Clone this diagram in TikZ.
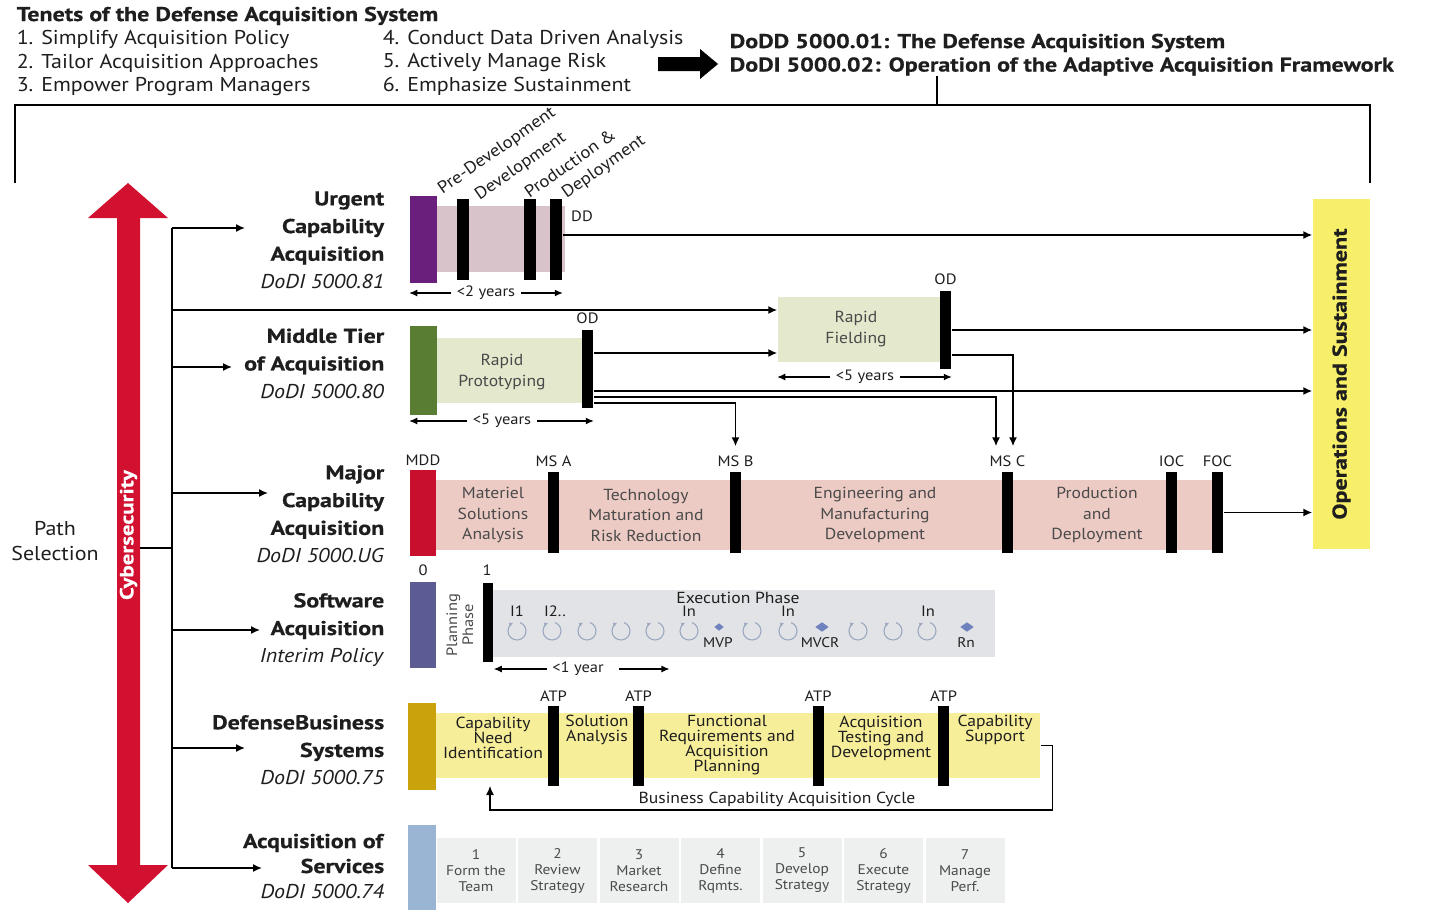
\documentclass[tikz,border=0pt]{standalone}
\usepackage{fontspec}
\setmainfont{PT Sans}[FakeStretch=1.1, BoldFeatures={FakeStretch=1.2, FakeBold=0.5}]
\usepackage{tikz}
\usetikzlibrary{arrows.meta, shapes.geometric, positioning}
\definecolor{txtdark}{HTML}{1E1E1E}
\definecolor{txtgray}{HTML}{4A4A4A}
\definecolor{cyberred}{HTML}{D2102F}
\definecolor{ucapurple}{HTML}{6B1F7C}
\definecolor{ucaband}{HTML}{D9C3CB}
\definecolor{mtagreen}{HTML}{5A7D34}
\definecolor{mtaband}{HTML}{E4E8CC}
\definecolor{mcared}{HTML}{C8102E}
\definecolor{mcaband}{HTML}{EDCBC5}
\definecolor{swblue}{HTML}{5C5B94}
\definecolor{swband}{HTML}{E2E3E6}
\definecolor{iconblue}{HTML}{9AA8C0}
\definecolor{dmdblue}{HTML}{6F82BD}
\definecolor{dbsgold}{HTML}{C9A20C}
\definecolor{dbsband}{HTML}{F7EE9A}
\definecolor{aosblue}{HTML}{9AB5D3}
\definecolor{aosband}{HTML}{EEF0F0}
\definecolor{osyellow}{HTML}{F7EF6A}
\newcommand\fsize[2]{\fontsize{#1}{#2}\selectfont}

\tikzset{
  hdr/.style={anchor=north west, align=left, inner sep=0pt, text=txtdark, font=\fsize{20}{23.5}},
  pathlbl/.style={anchor=east, align=right, inner sep=0pt, text=txtdark, font=\fsize{20}{27.7}},
  pathbar/.style={inner sep=0pt, minimum width=27pt},
  band/.style={inner sep=0pt},
  msbar/.style={fill=black, inner sep=0pt, minimum width=11pt},
  mslbl/.style={inner sep=0pt, text=txtdark, font=\fsize{15}{15}},
  phase/.style={align=center, inner sep=0pt, text=txtgray, font=\fsize{16}{20.5}},
  dbstxt/.style={align=center, inner sep=0pt, text=txtdark, font=\fsize{16}{15}},
  svcbox/.style={fill=aosband, inner sep=0pt, minimum width=79pt, minimum height=65pt, align=center, text=txtgray, font=\fsize{14}{16}},
  tilt/.style={rotate=35, anchor=base west, inner sep=0pt, text=txtdark, font=\fsize{17}{17}},
  dimlbl/.style={inner xsep=5pt, inner ysep=0pt, text=txtdark, font=\fsize{15}{15}},
  dim/.style={line width=1.1pt, -{Latex[length=8pt,width=7pt]}},
  iter/.style={draw=iconblue, line width=1.1pt, -{Latex[length=4pt,width=4pt]}},
  dmd/.style={diamond, fill=dmdblue, inner sep=0pt},
}

\begin{document}
\begin{tikzpicture}[x=1pt, y=-1pt, line width=1.5pt, >={Latex[length=9pt,width=8pt]}]
  \useasboundingbox (0,0) rectangle (1430,910);

  % header
  \node[hdr] (tenets) at (16,6) {\textbf{Tenets of the Defense Acquisition System}\\1. Simplify Acquisition Policy\\2. Tailor Acquisition Approaches\\3. Empower Program Managers};
  \node[hdr] (tenets2) at (382,29.5) {4. Conduct Data Driven Analysis\\5. Actively Manage Risk\\6. Emphasize Sustainment};
  \fill (658,57) -- (700,57) -- (700,49) -- (718,64) -- (700,79) -- (700,71) -- (658,71) -- cycle;
  \node[hdr, font=\bfseries\fsize{20}{23.5}] (dodd) at (729,33) {DoDD 5000.01: The Defense Acquisition System\\DoDI 5000.02: Operation of the Adaptive Acquisition Framework};
  \coordinate (frame) at (937,105);
  \draw (dodd.south -| frame) -- (frame);
  \draw (15,183) -- (15,105) -- (1370,105) -- (1370,183);

  % cybersecurity arrow and path selection
  \fill[cyberred] (128,183) -- (168,218) -- (140,218) -- (140,865) -- (168,865) -- (128,903) -- (88,865) -- (117,865) -- (117,218) -- (88,218) -- cycle;
  \node[rotate=90, inner sep=0pt, text=white, font=\bfseries\fsize{19}{19}] (cyber) at (128.5,535) {Cybersecurity};
  \node[align=center, inner sep=0pt, text=txtdark, font=\fsize{20}{25}] (path) at (55,541) {Path\\Selection};
  \coordinate (shaft) at (140,548);
  \coordinate (ttop) at (172,228);
  \coordinate (tbot) at (172,868);
  \draw (shaft) -- (shaft -| ttop);
  \draw (ttop) -- (tbot);
  \foreach \y/\len in {228/73, 367/60, 493/96, 630/88, 748/73, 868/90}
    \draw[->] (172,\y) -- ++(\len,0);

  % pathway labels
  \node[pathlbl] (uca) at (385,240) {\textbf{Urgent}\\\textbf{Capability}\\\textbf{Acquisition}\\\textit{DoDI 5000.81}};
  \node[pathlbl] (mta) at (385,363.5) {\textbf{Middle Tier}\\\textbf{of Acquisition}\\\textit{DoDI 5000.80}};
  \node[pathlbl] (mca) at (385,514) {\textbf{Major}\\\textbf{Capability}\\\textbf{Acquisition}\\\textit{DoDI 5000.UG}};
  \node[pathlbl] (swa) at (385,630) {\textbf{Software}\\\textbf{Acquisition}\\\textit{Interim Policy}};
  \node[pathlbl] (dbs) at (385,750) {\textbf{DefenseBusiness}\\\textbf{Systems}\\\textit{DoDI 5000.75}};
  \node[pathlbl, font=\fsize{20}{25}] (aos) at (385,866) {\textbf{Acquisition of}\\\textbf{Services}\\\textit{DoDI 5000.74}};

  % operations and sustainment
  \node[fill=osyellow, inner sep=0pt, minimum width=57pt, minimum height=350pt] (os) at (1341.5,374) {};
  \node[rotate=90, inner sep=0pt, text=txtdark, font=\bfseries\fsize{20}{20}] (oslbl) at (os) {Operations and Sustainment};

  % urgent capability acquisition
  \node[pathbar, fill=ucapurple, minimum height=87pt] (ucabar) at (423.5,239.5) {};
  \node[band, fill=ucaband, minimum width=128pt, minimum height=66pt] (ucaband) at (501,239) {};
  \node[msbar, minimum width=12pt, minimum height=81pt] (pdev) at (463,239.5) {};
  \node[msbar, minimum width=12pt, minimum height=81pt] (dev) at (530,239.5) {};
  \node[msbar, minimum width=12pt, minimum height=81pt] (dd) at (556,239.5) {};
  \node[tilt] (lpre) at (442,195) {Pre-Development};
  \node[tilt] (ldev) at (479,201) {Development};
  \node[tilt] (lprod) at (529,199) {Production \&};
  \node[tilt] (ldep) at (566,199) {Deployment};
  \node[mslbl] (ddlbl) at (582,216) {DD};
  \node[dimlbl] (uyrs) at (486,293) {<2 years};
  \draw[dim] (uyrs.west) -- (uyrs.west -| ucabar.west);
  \draw[dim] (uyrs.east) -- (uyrs.east -| dd.east);

  % middle tier of acquisition
  \node[pathbar, fill=mtagreen, minimum height=89pt] (mtabar) at (423.5,370.5) {};
  \node[band, fill=mtaband, minimum width=148pt, minimum height=65pt] (rpband) at (511,370.5) {};
  \node[phase] (rp) at (502,372) {Rapid\\Prototyping};
  \node[msbar, minimum height=78pt] (odp) at (587.5,369) {};
  \node[mslbl, above=5pt of odp] (odplbl) {OD};
  \node[band, fill=mtaband, minimum width=167pt, minimum height=65pt] (rfband) at (861.5,329.5) {};
  \node[phase] (rf) at (856,329) {Rapid\\Fielding};
  \node[msbar, minimum height=78pt] (odf) at (945.5,330) {};
  \node[mslbl, above=5pt of odf] (odflbl) {OD};
  \node[dimlbl] (pyrs) at (502,421) {<5 years};
  \draw[dim] (pyrs.west) -- (pyrs.west -| mtabar.west);
  \draw[dim] (pyrs.east) -- (pyrs.east -| odp.east);
  \node[dimlbl] (fyrs) at (865,377) {<5 years};
  \draw[dim] (fyrs.west) -- (fyrs.west -| rfband.west);
  \draw[dim] (fyrs.east) -- (fyrs.east -| odf.east);

  % major capability acquisition
  \node[pathbar, fill=mcared, minimum width=26pt, minimum height=86pt] (mcabar) at (423,513) {};
  \node[mslbl, above=3pt of mcabar] (mddlbl) {MDD};
  \node[band, fill=mcaband, minimum width=784pt, minimum height=70pt] (mcaband) at (828,515) {};
  \foreach \n/\x/\t in {msA/553.5/MS A, msB/735.5/MS B, msC/1007.5/MS C, ioc/1171.5/IOC, foc/1217.5/FOC} {
    \node[msbar, minimum height=81pt] (\n) at (\x,512.5) {};
    \node[mslbl, above=4pt of \n] (\n lbl) {\t};
  }
  \node[phase] (msa) at (493,515) {Materiel\\Solutions\\Analysis};
  \node[phase] (tmrr) at (646,515) {Technology\\Maturation and\\Risk Reduction};
  \node[phase] (emd) at (875,515) {Engineering and\\Manufacturing\\Development};
  \node[phase] (pd) at (1097,515) {Production\\and\\Deployment};
  \node[mslbl] (n0) at (423,570) {0};
  \node[mslbl] (n1) at (487,570) {1};

  % connectors between pathways
  \coordinate (tmid) at (172,310);
  \draw[->] (tmid) -- (tmid -| rfband.west);
  \draw[->] ([yshift=4.5pt]dd.east) -- ([yshift=4.5pt]dd.east -| os.west);
  \draw[->] ([yshift=16pt]odp.east) -- ([yshift=16pt]odp.east -| rfband.west);
  \draw[->] (odf.east) -- (odf.east -| os.west);
  \draw[->] ([yshift=-25pt]odf.east) -| ([xshift=5.5pt,yshift=25pt]msC.north);
  \draw[->] ([yshift=-22pt]odp.east) -- ([yshift=-22pt]odp.east -| os.west);
  \draw[->] ([yshift=-28pt]odp.east) -| ([xshift=-11.5pt,yshift=25pt]msC.north);
  \draw[->] ([yshift=-34pt]odp.east) -| ([yshift=25pt]msB.north);
  \draw[->] (foc.east) -- (foc.east -| os.west);

  % software acquisition
  \node[pathbar, fill=swblue, minimum width=26pt, minimum height=86pt] (swbar) at (423,625) {};
  \node[band, fill=swband, minimum width=502pt, minimum height=67pt] (swband) at (744,623.5) {};
  \node[rotate=90, align=center, inner sep=0pt, text=txtgray, font=\fsize{15}{16}] (plan) at (460,625) {Planning\\Phase};
  \node[msbar, minimum width=10pt, minimum height=79pt] (swms) at (488,622.5) {};
  \node[inner sep=0pt, text=txtdark, font=\fsize{16}{16}] (exec) at (738,598) {Execution Phase};
  \foreach \x in {517,552,587,621,655,689,752,788,858,893,927}
    \draw[iter] (\x,631) ++(-70:9) arc[start angle=-70, end angle=245, radius=9];
  \node[dmd, minimum width=10pt, minimum height=8pt] (mvp) at (719,627) {};
  \node[dmd, minimum width=14pt, minimum height=10pt] (mvcr) at (822,627) {};
  \node[dmd, minimum width=14pt, minimum height=10pt] (rn) at (967,627) {};
  \node[mslbl] (li1) at (517,611) {I1};
  \node[mslbl] (li2) at (555,611) {I2..};
  \node[mslbl] (lin1) at (689,611) {In};
  \node[mslbl] (lin2) at (788,611) {In};
  \node[mslbl] (lin3) at (928,611) {In};
  \node[mslbl, font=\fsize{14}{14}] (lmvp) at (718,643) {MVP};
  \node[mslbl, font=\fsize{14}{14}] (lmvcr) at (820,643) {MVCR};
  \node[mslbl, font=\fsize{14}{14}] (lrn) at (966,643) {Rn};
  \node[dimlbl] (syrs) at (578,669) {<1 year};
  \draw[dim] (syrs.west) -- (syrs.west -| swms.east);
  \draw[dim] ([xshift=10pt]syrs.east) -- ++(50,0);

  % defense business systems
  \node[pathbar, fill=dbsgold, minimum width=28pt, minimum height=87pt] (dbsbar) at (422,746.5) {};
  \node[band, fill=dbsband, minimum width=604pt, minimum height=65pt] (dbsband) at (738,745.5) {};
  \foreach \n/\x in {atp1/553.5, atp2/638.5, atp3/818, atp4/943.5} {
    \node[msbar, minimum height=80pt] (\n) at (\x,746) {};
    \node[mslbl, above=3pt of \n] (\n lbl) {ATP};
  }
  \node[dbstxt] (cni) at (493,738) {Capability\\Need\\Identification};
  \node[dbstxt] (sa) at (597,730) {Solution\\Analysis};
  \node[dbstxt] (frap) at (727,745) {Functional\\Requirements and\\Acquisition\\Planning};
  \node[dbstxt] (atd) at (881,738) {Acquisition\\Testing and\\Development};
  \node[dbstxt] (cs) at (995,730) {Capability\\Support};
  \coordinate (cycret) at (490,810);
  \draw[->, line width=1.2pt] (dbsband.east) -- ++(12,0) |- (cycret) -- ++(0,-24);
  \node[dbstxt] (bcac) at (777,799) {Business Capability Acquisition Cycle};

  % acquisition of services
  \node[pathbar, fill=aosblue, minimum width=28pt, minimum height=85pt] (aosbar) at (422,867.5) {};
  \node[svcbox] (svc1) at (476,870.5) {1\\Form the\\Team};
  \node[svcbox] (svc2) at (557.5,870.5) {2\\Review\\Strategy};
  \node[svcbox] (svc3) at (639,870.5) {3\\Market\\Research};
  \node[svcbox] (svc4) at (720.5,870.5) {4\\Define\\Rqmts.};
  \node[svcbox] (svc5) at (802,870.5) {5\\Develop\\Strategy};
  \node[svcbox] (svc6) at (883.5,870.5) {6\\Execute\\Strategy};
  \node[svcbox] (svc7) at (965,870.5) {7\\Manage\\Perf.};
\end{tikzpicture}
\end{document}
